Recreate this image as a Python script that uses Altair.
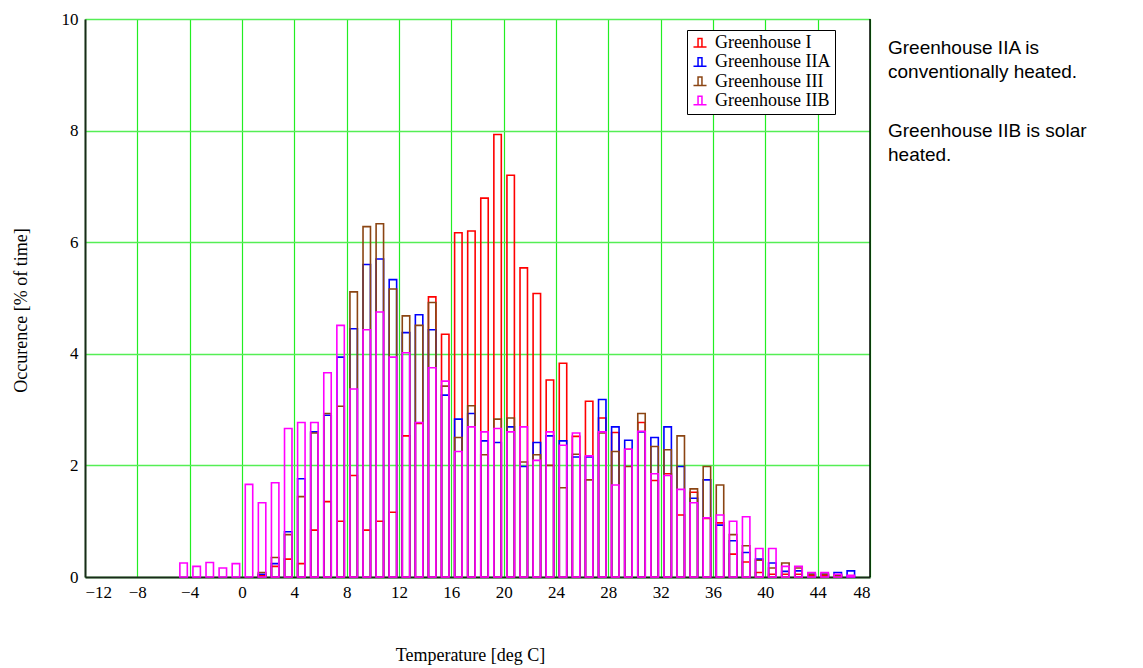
import altair as alt
import pandas as pd

# Temperature bins (deg C, lower edge of each 1-degree bin)
temps = list(range(-5, 47))

gh_I = [0, 0, 0, 0, 0, 0, 0.03, 0.19, 0.32, 0.24, 0.84, 1.35, 1.00, 1.82, 0.84, 1.00,
        1.16, 2.53, 2.75, 5.02, 4.35, 6.17, 6.20, 6.79, 7.93, 7.20, 5.54, 5.08, 3.53,
        3.83, 2.52, 3.15, 2.85, 2.59, 2.29, 2.77, 1.73, 1.85, 1.11, 1.52, 1.05, 0.97,
        0.41, 0.27, 0.08, 0.05, 0.05, 0.05, 0.03, 0.03, 0.03, 0]
gh_IIA = [0, 0, 0, 0, 0, 0, 0.05, 0.24, 0.81, 1.76, 2.60, 2.90, 3.94, 4.45, 5.60, 5.70,
          5.33, 4.38, 4.70, 4.43, 3.26, 2.83, 2.93, 2.44, 2.41, 2.69, 1.98, 2.41, 2.53,
          2.44, 2.15, 2.15, 3.18, 2.69, 2.45, 2.60, 2.50, 2.69, 1.98, 1.41, 1.74, 0.93,
          0.65, 0.44, 0.32, 0.25, 0.10, 0.11, 0.05, 0.05, 0.08, 0.11]
gh_III = [0, 0, 0, 0, 0, 0, 0.08, 0.35, 0.76, 1.44, 2.58, 2.93, 3.06, 5.11, 6.28, 6.33,
          5.16, 4.68, 4.51, 4.92, 3.42, 2.50, 3.07, 2.19, 2.83, 2.85, 2.06, 2.19, 2.00,
          1.60, 2.20, 1.74, 2.58, 2.25, 1.98, 2.93, 2.34, 2.28, 2.53, 1.58, 1.98, 1.65,
          0.76, 0.56, 0.30, 0.16, 0.25, 0.16, 0.05, 0.05, 0.03, 0]
gh_IIB = [0.25, 0.19, 0.26, 0.16, 0.24, 1.66, 1.33, 1.69, 2.66, 2.77, 2.77, 3.66, 4.51,
          3.37, 4.43, 4.75, 3.94, 4.02, 2.77, 3.75, 3.51, 2.25, 2.69, 2.60, 2.66, 2.60,
          2.69, 2.09, 2.60, 2.36, 2.58, 2.17, 2.60, 1.65, 2.29, 2.61, 1.85, 1.82, 1.57,
          1.33, 1.06, 1.11, 1.00, 1.08, 0.51, 0.51, 0.19, 0.19, 0.08, 0.08, 0.05, 0.03]

series_names = ["Greenhouse I", "Greenhouse IIA", "Greenhouse III", "Greenhouse IIB"]
series_values = [gh_I, gh_IIA, gh_III, gh_IIB]
series_colors = ["#FF0000", "#0000FF", "#8B4513", "#FF00FF"]

x_ticks = list(range(-12, 49, 4))
y_ticks = list(range(0, 11, 2))

rows = []
for order, (name, vals) in enumerate(zip(series_names, series_values)):
    for t, v in zip(temps, vals):
        if v > 0:
            rows.append({"series": name, "order": order, "t": t, "v": v})
df = pd.DataFrame(rows)

SERIF = "Liberation Serif"
SANS = "Liberation Sans"

bars = alt.Chart(df).transform_calculate(
    lo="datum.t + 0.25", hi="datum.t + 0.82"
).mark_bar(filled=False, strokeWidth=1.6).encode(
    x=alt.X("lo:Q",
            scale=alt.Scale(domain=[-12, 48], nice=False, zero=False),
            axis=alt.Axis(values=x_ticks, title="Temperature [deg C]",
                          titleX=385, titleY=78, titleAlign="center",
                          titleBaseline="middle", gridColor="#22EE22")),
    x2="hi:Q",
    y=alt.Y("v:Q",
            scale=alt.Scale(domain=[0, 10], nice=False),
            axis=alt.Axis(values=y_ticks, title="Occurence [% of time]",
                          titleX=-64, titleY=291, titleAngle=270,
                          titleAlign="center", titleBaseline="middle",
                          gridColor="#55EE55", gridWidth=1.5)),
    y2=alt.datum(0),
    stroke=alt.Stroke("series:N",
                      scale=alt.Scale(domain=series_names, range=series_colors),
                      legend=alt.Legend(title=None)),
    order=alt.Order("order:Q"),
)

border = alt.Chart().mark_rule(color="#000000", strokeWidth=1.5).encode(
    x=alt.value(785), y=alt.value(0), y2=alt.value(558)
)

note1 = alt.Chart().mark_text(
    text=["Greenhouse IIA is", "conventionally heated."],
    font=SANS, fontSize=19, lineHeight=24, align="left", baseline="middle",
    color="#000000"
).encode(x=alt.value(803), y=alt.value(29))

note2 = alt.Chart().mark_text(
    text=["Greenhouse IIB is solar", "heated."],
    font=SANS, fontSize=19, lineHeight=24, align="left", baseline="middle",
    color="#000000"
).encode(x=alt.value(803), y=alt.value(112))

chart = alt.layer(bars, border, note1, note2).properties(
    width=785, height=558,
    autosize=alt.AutoSizeParams(type="none"),
    padding={"left": 85, "top": 19, "right": 273, "bottom": 91},
    background="#FFFFFF",
).configure_view(
    strokeWidth=0
).configure_axis(
    labelFont=SERIF, labelFontSize=17, labelColor="#000000",
    titleFont=SERIF, titleFontSize=18, titleFontWeight="normal", titleColor="#000000",
    ticks=False, labelPadding=7,
    domainColor="#1A2A1A", domainWidth=2,
    gridWidth=1.2, gridOpacity=1,
).configure_legend(
    orient="none", legendX=602, legendY=11,
    strokeColor="#000000", strokeWidth=1, fillColor="#FFFFFF",
    padding=4, cornerRadius=0,
    labelFont=SERIF, labelFontSize=18, labelColor="#000000", labelOffset=6,
    symbolType="M-1,0.6H1M-0.3,0.6V-0.7H0.3V0.6",
    symbolSize=170, symbolStrokeWidth=1.5, symbolFillColor="transparent",
    rowPadding=1.3,
)

chart.save("out.html", embed_options={"renderer": "svg", "actions": False})
